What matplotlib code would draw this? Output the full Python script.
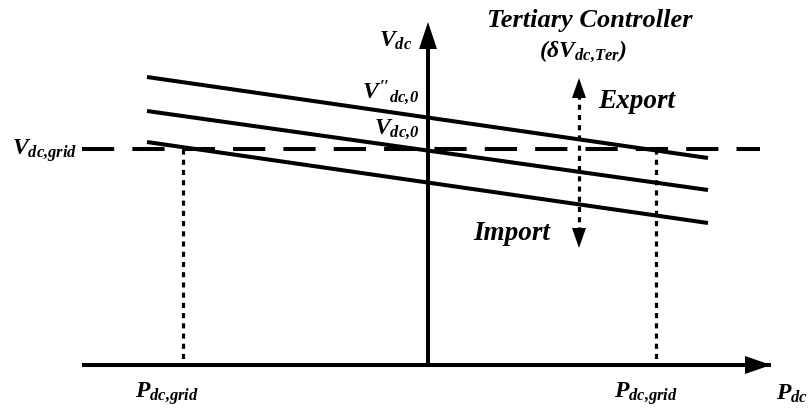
import matplotlib
matplotlib.use('Agg')
import matplotlib.pyplot as plt
from matplotlib.patches import Polygon

plt.rcParams.update({
    'font.family': 'Liberation Serif',
    'font.weight': 'bold',
    'font.style': 'italic',
    'mathtext.fontset': 'custom',
    'mathtext.rm': 'Liberation Serif:bold:italic',
    'mathtext.it': 'Liberation Serif:bold:italic',
    'mathtext.bf': 'Liberation Serif:bold:italic',
})

W, H = 809, 409

# axes (pixel frame, y grows downward)
origin = (428, 365)
x_axis_span = (82, 771)
y_axis_top = 22

# droop lines: (x_start, y_start, x_end, y_end)
droop_x = (147, 708)
droop_upper = (77, 158)
droop_mid = (111, 190)
droop_lower = (142, 223)

grid_v = 149
grid_v_span = (82, 760)
grid_p = (183, 656)

shift_x = 579
shift_span = (78, 248)

# (text, x, y, size)
labels = [
    (r'$V_{dc{,}grid}$', 45, 151, 17),
    (r'$V_{dc}$', 396, 41, 17),
    ('Tertiary Controller', 590, 20, 19),
    (r'$(\delta V_{dc{,}Ter})$', 583, 51, 17),
    (r"$V''_{dc{,}0}$", 390, 92, 17),
    (r'$V_{dc{,}0}$', 397, 129, 17),
    ('Export', 637, 102, 19.5),
    ('Import', 512, 234, 19.5),
    (r'$P_{dc{,}grid}$', 167, 394, 17),
    (r'$P_{dc{,}grid}$', 646, 394, 17),
    (r'$P_{dc}$', 792, 394, 17),
]

fig = plt.figure(figsize=(W / 100, H / 100), dpi=100)
ax = fig.add_axes([0, 0, 1, 1])
ax.set_xlim(0, W)
ax.set_ylim(H, 0)
ax.axis('off')


def head(tip, direction, length, half):
    tx, ty = tip
    dx, dy = direction
    bx, by = tx - dx * length, ty - dy * length
    px, py = -dy, dx
    pts = [(tx, ty), (bx + px * half, by + py * half), (bx - px * half, by - py * half)]
    ax.add_patch(Polygon(pts, closed=True, color='black', lw=0, zorder=5))


# main axes
ax.plot(x_axis_span, [origin[1]] * 2, color='black', lw=2.9, solid_capstyle='butt')
head((x_axis_span[1], origin[1]), (1, 0), 26, 9)
ax.plot([origin[0]] * 2, [origin[1], y_axis_top + 20], color='black', lw=2.9,
        solid_capstyle='butt')
head((origin[0], y_axis_top), (0, -1), 27, 9)

# droop characteristics
for ys in (droop_upper, droop_mid, droop_lower):
    ax.plot(droop_x, ys, color='black', lw=2.9, solid_capstyle='butt')

# grid voltage reference
ax.plot(grid_v_span, [grid_v] * 2, color='black', lw=2.9,
        linestyle=(0, (8, 4.5)), dash_capstyle='butt')
for xp in grid_p:
    ax.plot([xp, xp], [grid_v, origin[1]], color='black', lw=2.3,
            linestyle=(0, (1.6, 1.6)), dash_capstyle='butt')

# tertiary shift arrow
ax.plot([shift_x] * 2, [shift_span[0] + 16, shift_span[1] - 16], color='black',
        lw=2.3, linestyle=(0, (1.6, 1.6)), dash_capstyle='butt')
head((shift_x, shift_span[0]), (0, -1), 20, 7)
head((shift_x, shift_span[1]), (0, 1), 20, 7)

for text, x, y, size in labels:
    ax.text(x, y, text, ha='center', va='center', fontsize=size,
            fontweight='bold', fontstyle='italic')

fig.savefig('out.png', dpi=100)
